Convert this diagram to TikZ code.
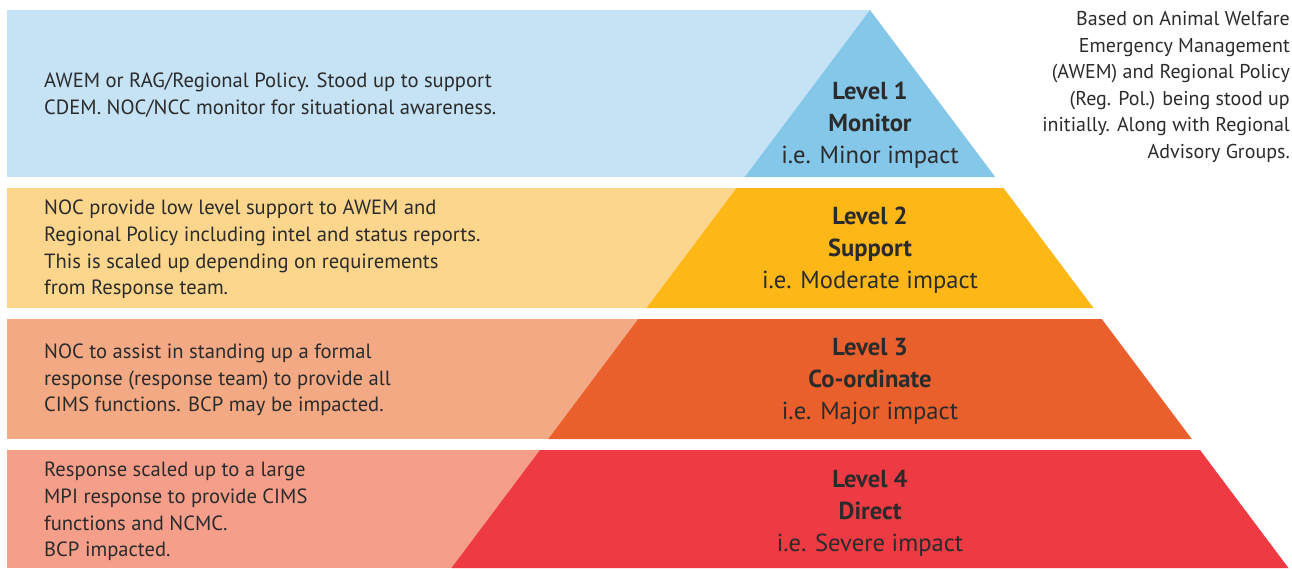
\documentclass[tikz,border=0pt]{standalone}
\usepackage{fontspec}
\setmainfont{PT Sans}
\definecolor{lblue}{HTML}{C6E2F5}
\definecolor{dblue}{HTML}{85C7E9}
\definecolor{lyel}{HTML}{FDD68D}
\definecolor{dyel}{HTML}{FDB817}
\definecolor{lora}{HTML}{F4A985}
\definecolor{dora}{HTML}{E9602C}
\definecolor{lred}{HTML}{F59F8B}
\definecolor{dred}{HTML}{EE3B43}
\definecolor{txt}{HTML}{2B2B2B}
\begin{document}
\begin{tikzpicture}[x=1pt,y=-1pt,
  desc/.style={anchor=west,align=left,text=txt,inner sep=0pt,
    font=\fontsize{20.6}{26.7}\selectfont},
  lvl/.style={align=center,text=txt,inner sep=0pt,
    font=\fontsize{24.6}{32}\selectfont},
  note/.style={anchor=east,align=right,text=txt,inner sep=0pt,
    font=\fontsize{20}{26.5}\selectfont}]
\useasboundingbox (0,0) rectangle (1292,568);
% band 1
\fill[lblue] (7,10) rectangle (870,177);
\fill[dblue] (870,10) -- (995.25,177) -- (744.75,177) -- cycle;
% band 2
\fill[lyel] (7,188) rectangle (870,308);
\fill[dyel] (736.5,188) -- (1003.5,188) -- (1093.5,308) -- (646.5,308) -- cycle;
% band 3
\fill[lora] (7,319) rectangle (870,439);
\fill[dora] (638.25,319) -- (1101.75,319) -- (1191.75,439) -- (548.25,439) -- cycle;
% band 4
\fill[lred] (7,450) rectangle (870,568);
\fill[dred] (540,450) -- (1200,450) -- (1288.5,568) -- (451.5,568) -- cycle;

\node[desc] (d1) at (44,95) {AWEM or RAG/Regional Policy. Stood up to support\\CDEM. NOC/NCC monitor for situational awareness.};
\node[desc] (d2) at (44,249.5) {NOC provide low level support to AWEM and\\Regional Policy including intel and status reports.\\This is scaled up depending on requirements\\from Response team.};
\node[desc] (d3) at (44,380) {NOC to assist in standing up a formal\\response (response team) to provide all\\CIMS functions. BCP may be impacted.};
\node[desc] (d4) at (44,511.5) {Response scaled up to a large\\MPI response to provide CIMS\\functions and NCMC.\\BCP impacted.};

\node[lvl] (l1) at (870,125) {\textbf{Level 1}\\\textbf{Monitor}\\i.e. Minor impact};
\node[lvl] (l2) at (870,250.5) {\textbf{Level 2}\\\textbf{Support}\\i.e. Moderate impact};
\node[lvl] (l3) at (870,381) {\textbf{Level 3}\\\textbf{Co-ordinate}\\i.e. Major impact};
\node[lvl] (l4) at (870,513) {\textbf{Level 4}\\\textbf{Direct}\\i.e. Severe impact};

\node[note] (n1) at (1290,87) {Based on Animal Welfare\\Emergency Management\\(AWEM) and Regional Policy\\(Reg. Pol.) being stood up\\initially. Along with Regional\\Advisory Groups.};
\end{tikzpicture}
\end{document}
